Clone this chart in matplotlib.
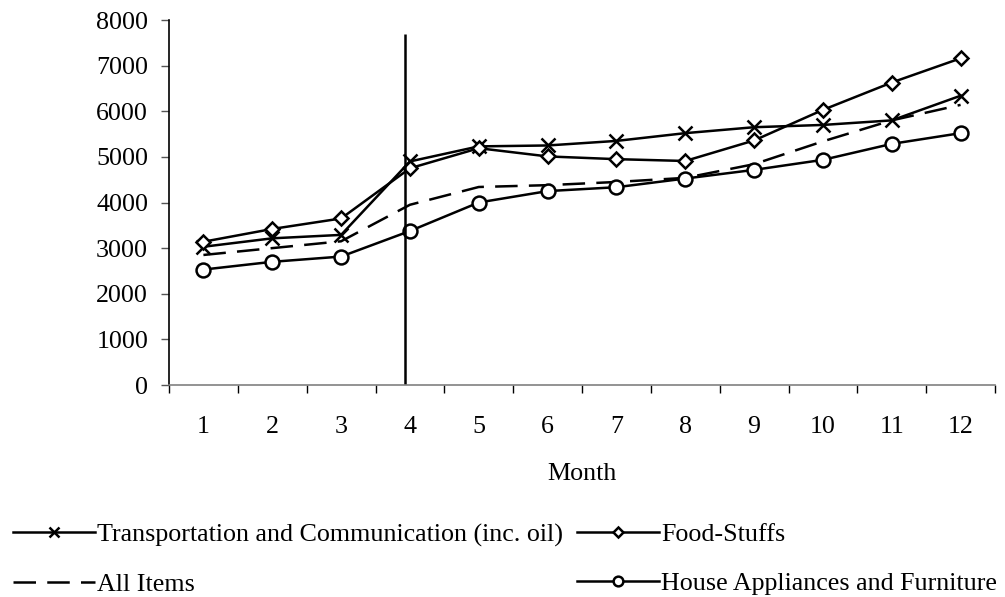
import matplotlib
matplotlib.use("Agg")
import matplotlib.pyplot as plt
from matplotlib.ticker import FixedLocator

months = list(range(1, 13))
month_labels = [str(m) for m in months]
transport = [3030, 3215, 3290, 4900, 5230, 5250, 5350, 5520, 5650, 5700, 5800, 6340]
food = [3140, 3420, 3650, 4750, 5190, 5010, 4950, 4910, 5360, 6030, 6630, 7160]
all_items = [2850, 3000, 3150, 3950, 4340, 4380, 4450, 4540, 4840, 5340, 5800, 6140]
house = [2530, 2700, 2815, 3375, 4000, 4250, 4335, 4525, 4715, 4935, 5285, 5520]
y_ticks = [0, 1000, 2000, 3000, 4000, 5000, 6000, 7000, 8000]
divider_month = 3.93
divider_top = 7700

plt.rcParams['font.family'] = ['Liberation Serif', 'DejaVu Serif']
plt.rcParams['font.size'] = 18.7

fig = plt.figure(figsize=(10.05, 5.97), dpi=100)
ax = fig.add_axes([169/1005, 1 - 385/597, (995-169)/1005, (385-20)/597])

lw = 1.8
ax.plot(months, transport, color='black', lw=lw, marker='x', markersize=10,
        markeredgewidth=1.8, label='Transportation and Communication (inc. oil)')
ax.plot(months, all_items, color='black', lw=lw, dashes=(9, 4.5), label='All Items')
ax.plot(months, food, color='black', lw=lw, marker='D', markersize=7.5,
        markerfacecolor='white', markeredgewidth=1.8, label='Food-Stuffs')
ax.plot(months, house, color='black', lw=lw, marker='o', markersize=10,
        markerfacecolor='white', markeredgewidth=1.8, label='House Appliances and Furniture')
ax.vlines(divider_month, 0, divider_top, color='black', lw=1.8)

ax.set_xlim(0.5, 12.5)
ax.set_ylim(0, 8000)
ax.set_yticks(y_ticks)
ax.set_xticks(months)
ax.set_xticklabels(month_labels)
ax.xaxis.set_minor_locator(FixedLocator([m + 0.5 for m in [0] + months]))
ax.tick_params(axis='x', which='major', length=0, pad=22)
ax.tick_params(axis='x', which='minor', length=6, width=1, direction='out', color='black')
ax.tick_params(axis='y', which='major', length=6, width=1, direction='out', pad=9, color='#555555')
for s in ['top', 'right']:
    ax.spines[s].set_visible(False)
ax.spines['left'].set_color('black')
ax.spines['bottom'].set_color('#808080')
ax.spines['left'].set_linewidth(1.2)
ax.spines['bottom'].set_linewidth(1.2)
ax.set_xlabel('Month', labelpad=18)

handles, labels = ax.get_legend_handles_labels()
leg = fig.legend(handles, labels, ncol=2, loc='upper left', bbox_to_anchor=(13/1005, 1 - 523/597),
                 frameon=False, handlelength=3.15, handletextpad=0.08, columnspacing=0.55,
                 labelspacing=1.0, markerscale=0.7, borderaxespad=0, borderpad=0)

fig.savefig('out.png', dpi=100)
